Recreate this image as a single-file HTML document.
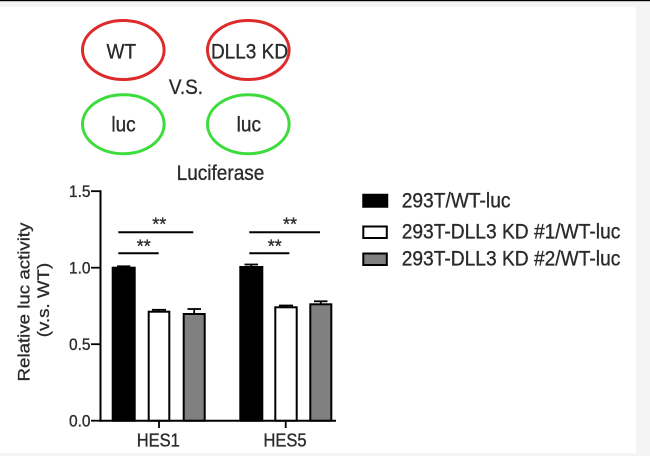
<!DOCTYPE html>
<html><head><meta charset="utf-8"><style>
html,body{margin:0;padding:0;background:#fff;}
svg{display:block;}
text{font-family:"Liberation Sans",Arial,sans-serif;fill:#2a2a2a;stroke:#2a2a2a;stroke-width:0.3;}
</style></head><body>
<svg width="650" height="456" viewBox="0 0 650 456" xmlns="http://www.w3.org/2000/svg">
<rect x="0" y="0" width="650" height="456" fill="#ffffff"/>
<rect x="0" y="1" width="650" height="6" fill="#f4f4f4"/>
<rect x="636" y="1" width="14" height="455" fill="#f4f4f4"/>
<rect x="0" y="453" width="650" height="3" fill="#f4f4f4"/>
<rect x="0" y="0" width="650" height="1.2" fill="#000"/>

<!-- top diagram -->
<ellipse cx="123.3" cy="50" rx="40.8" ry="29.5" fill="none" stroke="#dd2b2b" stroke-width="3"/>
<ellipse cx="248.3" cy="50" rx="40.8" ry="29.5" fill="none" stroke="#dd2b2b" stroke-width="3"/>
<ellipse cx="123.3" cy="124.2" rx="40.8" ry="29.5" fill="none" stroke="#3ddc3d" stroke-width="3"/>
<ellipse cx="248.3" cy="124.2" rx="40.8" ry="29.5" fill="none" stroke="#3ddc3d" stroke-width="3"/>
<text transform="translate(121.3,58.3) scale(1,1.1)" text-anchor="middle" font-size="19">WT</text>
<text transform="translate(249.5,58.3) scale(1,1.1)" text-anchor="middle" font-size="19">DLL3 KD</text>
<text transform="translate(186,94) scale(1,1.1)" text-anchor="middle" font-size="19">V.S.</text>
<text transform="translate(123.5,131.7) scale(1,1.1)" text-anchor="middle" font-size="19">luc</text>
<text transform="translate(248.8,131.7) scale(1,1.1)" text-anchor="middle" font-size="19">luc</text>
<text transform="translate(220.5,180) scale(1,1.1)" text-anchor="middle" font-size="19">Luciferase</text>

<!-- axes -->
<line x1="100.5" y1="190.2" x2="100.5" y2="421.7" stroke="#000" stroke-width="2"/>
<line x1="99.5" y1="420.7" x2="336" y2="420.7" stroke="#000" stroke-width="2"/>
<g stroke="#000" stroke-width="1.8">
<line x1="91" y1="191.2" x2="100" y2="191.2"/>
<line x1="91" y1="267.7" x2="100" y2="267.7"/>
<line x1="91" y1="344.2" x2="100" y2="344.2"/>
<line x1="91" y1="420.7" x2="100" y2="420.7"/>
<line x1="159" y1="421" x2="159" y2="428"/>
<line x1="285.7" y1="421" x2="285.7" y2="428"/>
</g>
<g font-size="15.5" text-anchor="end">
<text transform="translate(90.5,197) scale(1,1.08)">1.5</text>
<text transform="translate(90.5,273.5) scale(1,1.08)">1.0</text>
<text transform="translate(90.5,350) scale(1,1.08)">0.5</text>
<text transform="translate(90.5,426.5) scale(1,1.08)">0.0</text>
</g>
<text transform="translate(158.3,446.7) scale(1,1.1)" text-anchor="middle" font-size="16.5">HES1</text>
<text transform="translate(285,446.7) scale(1,1.1)" text-anchor="middle" font-size="16.5">HES5</text>

<!-- y label -->
<text transform="translate(29.5,302) scale(1,1.1) rotate(-90)" text-anchor="middle" font-size="17">Relative luc activity</text>
<text transform="translate(49,300) scale(1,1.1) rotate(-90)" text-anchor="middle" font-size="17">(v.s. WT)</text>

<!-- bars -->
<g stroke="#000" stroke-width="2">
<rect x="112.7" y="267.7" width="22" height="153" fill="#000"/>
<rect x="148.7" y="311.7" width="20.6" height="109" fill="#fff"/>
<rect x="183.7" y="314" width="21" height="106.7" fill="#808080"/>
<rect x="240.3" y="267" width="22" height="153.7" fill="#000"/>
<rect x="275.3" y="307.3" width="21.4" height="113.4" fill="#fff"/>
<rect x="310.3" y="304.3" width="21" height="116.4" fill="#808080"/>
</g>
<!-- error bars -->
<g stroke="#000" stroke-width="1.8">
<line x1="123.7" y1="267.7" x2="123.7" y2="266.3"/><line x1="117" y1="266.3" x2="130.4" y2="266.3"/>
<line x1="159" y1="311.7" x2="159" y2="309.8"/><line x1="152" y1="309.8" x2="166" y2="309.8"/>
<line x1="194.2" y1="314" x2="194.2" y2="309"/><line x1="187.5" y1="309" x2="201" y2="309"/>
<line x1="251.3" y1="267" x2="251.3" y2="264.5"/><line x1="244.5" y1="264.5" x2="258" y2="264.5"/>
<line x1="286" y1="307.3" x2="286" y2="305.5"/><line x1="279" y1="305.5" x2="293" y2="305.5"/>
<line x1="320.8" y1="304.3" x2="320.8" y2="301.3"/><line x1="314" y1="301.3" x2="327.5" y2="301.3"/>
</g>

<!-- significance -->
<g stroke="#000" stroke-width="2">
<line x1="118.3" y1="232.3" x2="193.3" y2="232.3"/>
<line x1="118.3" y1="253.3" x2="158.7" y2="253.3"/>
<line x1="249.3" y1="232.3" x2="320" y2="232.3"/>
<line x1="249.3" y1="253.3" x2="289.3" y2="253.3"/>
</g>
<g font-size="18" text-anchor="middle">
<text x="159.2" y="230.3">**</text>
<text x="143.8" y="252.6">**</text>
<text x="290" y="230.3">**</text>
<text x="274.7" y="252.6">**</text>
</g>

<!-- legend -->
<rect x="363" y="194.5" width="24.5" height="12.5" fill="#000" stroke="#000" stroke-width="1.5"/>
<rect x="363.3" y="226.5" width="23.5" height="11.5" fill="#fff" stroke="#000" stroke-width="2"/>
<rect x="363.3" y="253.5" width="23.5" height="11.5" fill="#808080" stroke="#000" stroke-width="2"/>
<text transform="translate(401.7,207.5) scale(1,1.1)" font-size="19.2">293T/WT-luc</text>
<text transform="translate(401.7,238.7) scale(1,1.1)" font-size="19.2">293T-DLL3 KD #1/WT-luc</text>
<text transform="translate(401.7,265.5) scale(1,1.1)" font-size="19.2">293T-DLL3 KD #2/WT-luc</text>
</svg>
</body></html>
